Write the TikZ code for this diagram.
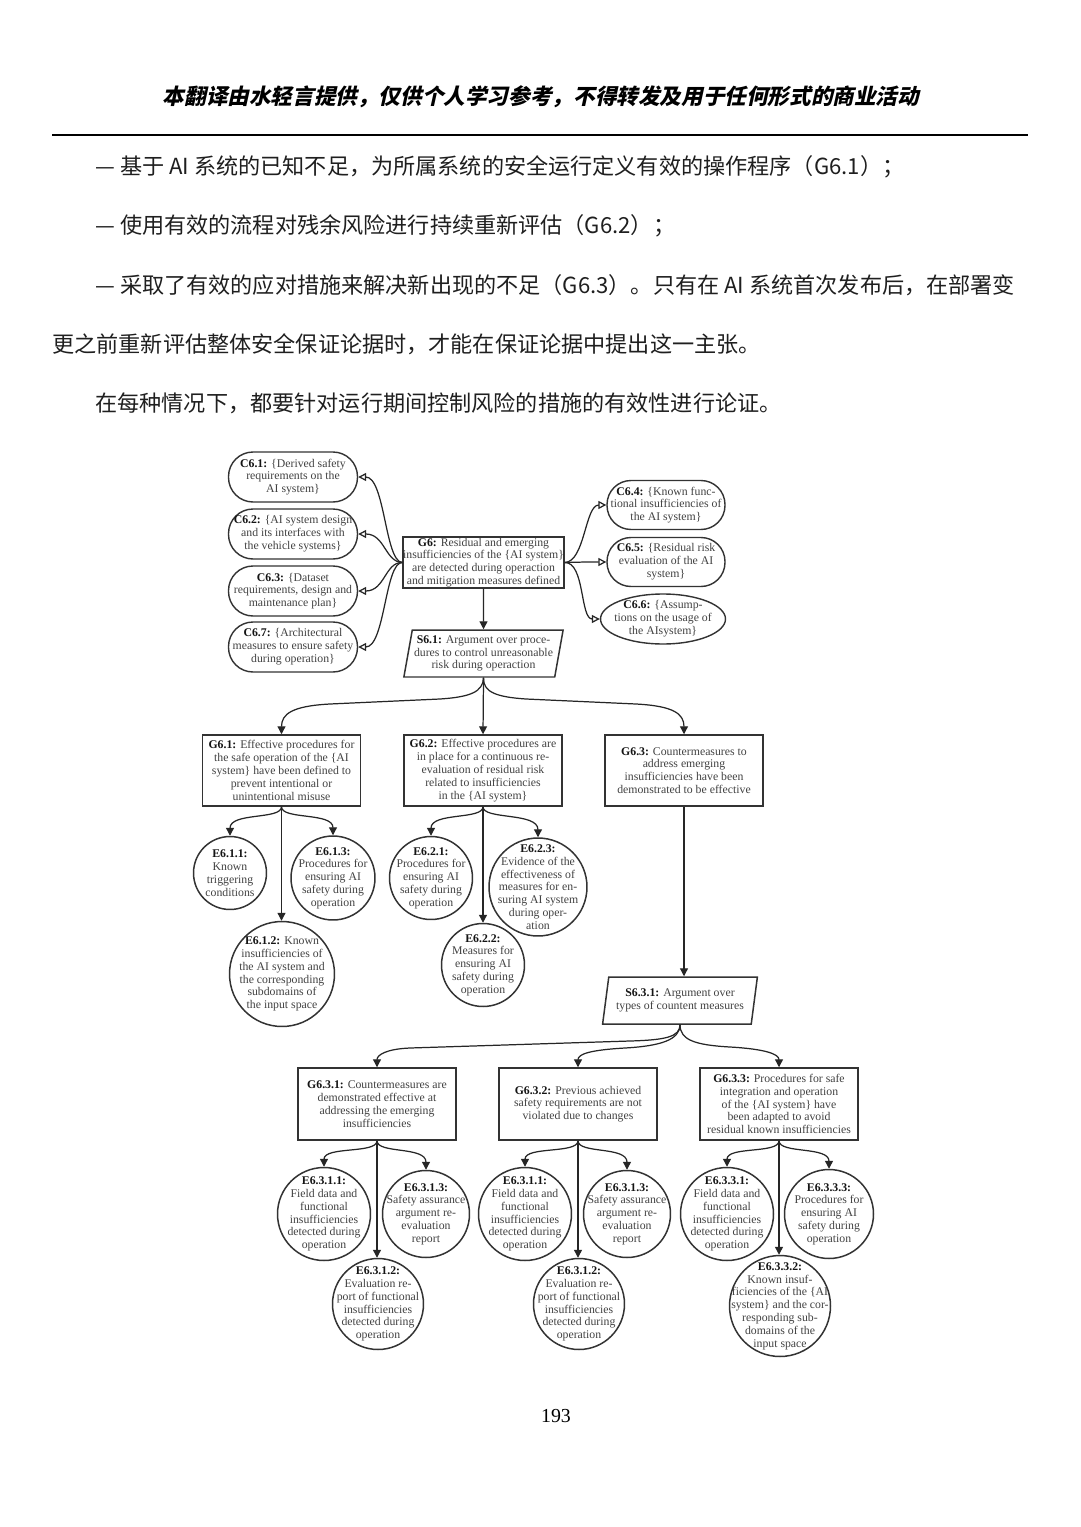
\documentclass[tikz,border=0pt]{standalone}
\usepackage{fontspec}
\setmainfont{Liberation Serif}
\newfontfamily\cjk{Noto Sans CJK SC}
\newfontfamily\cjkhead{Noto Sans CJK SC}[FakeSlant=0.22]
\usetikzlibrary{arrows.meta,shapes.geometric}
\newcommand\glab[1]{\textbf{\color{black!92}#1}}
\tikzset{
  txt/.style={font=\fontsize{6.7}{7.3}\selectfont, text=black!74, align=center},
  goal/.style={txt, rectangle, draw=black!80, line width=0.85pt, inner sep=0pt},
  ctxL/.style={txt, rectangle, draw=black!80, line width=0.8pt, rounded corners=0.49cm,
               minimum width=2.58cm, minimum height=1.0cm, inner sep=0pt},
  ctxR/.style={txt, rectangle, draw=black!80, line width=0.8pt, rounded corners=0.48cm,
               minimum width=2.36cm, minimum height=0.98cm, inner sep=0pt},
  ctxE/.style={txt, ellipse, draw=black!80, line width=0.8pt,
               minimum width=2.5cm, minimum height=1.0cm, inner sep=-6pt},
  strat/.style={txt, trapezium, trapezium left angle=78, trapezium right angle=102,
                trapezium stretches=true, draw=black!80, line width=0.85pt, inner sep=1pt},
  evid/.style={txt, circle, draw=black!80, line width=0.85pt, inner sep=-20pt},
  arr/.style={-{Triangle[length=4.5pt,width=4.5pt]}, line width=0.7pt, draw=black!85},
  carr/.style={-{Triangle[open,length=4.5pt,width=4.5pt,fill=white]}, line width=0.7pt, draw=black!85},
  body/.style={font=\cjk\fontsize{12.6}{15}\selectfont, text=black!88, inner sep=0pt, anchor=west},
}
\begin{document}
\begin{tikzpicture}[x=0.02cm,y=-0.02cm]
\fill[white] (0,0) rectangle (1080,1527);
\useasboundingbox (0,0) rectangle (1080,1527);

% page header and text
\node[font=\cjkhead\fontsize{12.3}{14}\selectfont\bfseries, text=black, inner sep=0pt] (hdr) at (541,97)
  {本翻译由水轻言提供，仅供个人学习参考，不得转发及用于任何形式的商业活动};
\draw[line width=1.1pt] (52,135) -- (1028,135);
\node[body] (l1) at (95,167) {— 基于 AI 系统的已知不足，为所属系统的安全运行定义有效的操作程序（G6.1）；};
\node[body] (l2) at (95,226) {— 使用有效的流程对残余风险进行持续重新评估（G6.2）；};
\node[body] (l3) at (95,285) {— 采取了有效的应对措施来解决新出现的不足（G6.3）。只有在 AI 系统首次发布后，在部署变};
\node[body] (l4) at (52,344) {更之前重新评估整体安全保证论据时，才能在保证论据中提出这一主张。};
\node[body] (l5) at (95,403) {在每种情况下，都要针对运行期间控制风险的措施的有效性进行论证。};

% contexts
\node[ctxL] (C61) at (293,477) {\glab{C6.1:} \{Derived safety\\requirements on the\\AI system\}};
\node[ctxL] (C62) at (293,534) {\glab{C6.2:} \{AI system design\\and its interfaces with\\the vehicle systems\}};
\node[ctxL] (C63) at (293,591) {\glab{C6.3:} \{Dataset\\requirements, design and\\maintenance plan\}};
\node[ctxL] (C67) at (293,647) {\glab{C6.7:} \{Architectural\\measures to ensure safety\\during operation\}};
\node[ctxR] (C64) at (666,505) {\glab{C6.4:} \{Known func-\\tional insufficiencies of\\the AI system\}};
\node[ctxR] (C65) at (666,562) {\glab{C6.5:} \{Residual risk\\evaluation of the AI\\system\}};
\node[ctxE] (C66) at (663,619) {\glab{C6.6:} \{Assump-\\tions on the usage of\\the AIsystem\}};

% goals and strategies
\node[goal, minimum width=3.14cm, minimum height=1.02cm] (G6) at (483.5,562.5)
  {\glab{G6:} Residual and emerging\\insufficiencies of the \{AI system\}\\are detected during operaction\\and mitigation measures defined};
\node[strat, minimum height=0.94cm] (S61) at (483.5,653.5)
  {\glab{S6.1:} Argument over proce-\\dures to control unreasonable\\risk during operaction};
\node[goal, minimum width=3.16cm, minimum height=1.42cm] (G61) at (281.5,770.5)
  {\glab{G6.1:} Effective procedures for\\the safe operation of the \{AI\\system\} have been defined to\\prevent intentional or\\unintentional misuse};
\node[goal, minimum width=3.16cm, minimum height=1.42cm] (G62) at (483,770.5)
  {\glab{G6.2:} Effective procedures are\\in place for a continuous re-\\evaluation of residual risk\\related to insufficiencies\\in the \{AI system\}};
\node[goal, minimum width=3.16cm, minimum height=1.42cm] (G63) at (684,770.5)
  {\glab{G6.3:} Countermeasures to\\address emerging\\insufficiencies have been\\demonstrated to be effective};

% evidence under G6.1, G6.2
\node[evid, minimum size=1.46cm] (E611) at (230,873) {\glab{E6.1.1:}\\Known\\triggering\\conditions};
\node[evid, minimum size=1.68cm] (E613) at (333,878) {\glab{E6.1.3:}\\Procedures for\\ensuring AI\\safety during\\operation};
\node[evid, minimum size=2.10cm] (E612) at (282,974) {\glab{E6.1.2:} Known\\insufficiencies of\\the AI system and\\the corresponding\\subdomains of\\the input space};
\node[evid, minimum size=1.66cm] (E621) at (431,878) {\glab{E6.2.1:}\\Procedures for\\ensuring AI\\safety during\\operation};
\node[evid, minimum size=1.96cm] (E623) at (538,887) {\glab{E6.2.3:}\\Evidence of the\\effectiveness of\\measures for en-\\suring AI system\\during oper-\\ation};
\node[evid, minimum size=1.66cm] (E622) at (483,965) {\glab{E6.2.2:}\\Measures for\\ensuring AI\\safety during\\operation};

% S6.3.1 and its goals
\node[strat, minimum height=0.94cm, minimum width=3.1cm] (S631) at (680,1000.5)
  {\glab{S6.3.1:} Argument over\\types of countent measures};
\node[goal, minimum width=3.16cm, minimum height=1.44cm] (G631) at (377,1104)
  {\glab{G6.3.1:} Countermeasures are\\demonstrated effective at\\addressing the emerging\\insufficiencies};
\node[goal, minimum width=3.16cm, minimum height=1.44cm] (G632) at (578,1104)
  {\glab{G6.3.2:} Previous achieved\\safety requirements are not\\violated due to changes};
\node[goal, minimum width=3.16cm, minimum height=1.44cm] (G633) at (779,1104)
  {\glab{G6.3.3:} Procedures for safe\\integration and operation\\of the \{AI system\} have\\been adapted to avoid\\residual known insufficiencies};

% evidence under G6.3.x
\node[evid, minimum size=1.86cm] (Ea1) at (324,1214) {\glab{E6.3.1.1:}\\Field data and\\functional\\insufficiencies\\detected during\\operation};
\node[evid, minimum size=1.74cm] (Ea3) at (426,1214) {\glab{E6.3.1.3:}\\Safety assurance\\argument re-\\evaluation\\report};
\node[evid, minimum size=1.82cm] (Ea2) at (378,1304) {\glab{E6.3.1.2:}\\Evaluation re-\\port of functional\\insufficiencies\\detected during\\operation};
\node[evid, minimum size=1.86cm] (Eb1) at (525,1214) {\glab{E6.3.1.1:}\\Field data and\\functional\\insufficiencies\\detected during\\operation};
\node[evid, minimum size=1.74cm] (Eb3) at (627,1214) {\glab{E6.3.1.3:}\\Safety assurance\\argument re-\\evaluation\\report};
\node[evid, minimum size=1.82cm] (Eb2) at (579,1304) {\glab{E6.3.1.2:}\\Evaluation re-\\port of functional\\insufficiencies\\detected during\\operation};
\node[evid, minimum size=1.86cm] (Ec1) at (727,1214) {\glab{E6.3.3.1:}\\Field data and\\functional\\insufficiencies\\detected during\\operation};
\node[evid, minimum size=1.78cm] (Ec3) at (829,1214) {\glab{E6.3.3.3:}\\Procedures for\\ensuring AI\\safety during\\operation};
\node[evid, minimum size=2.02cm] (Ec2) at (780,1306) {\glab{E6.3.3.2:}\\Known insuf-\\ficiencies of the \{AI\\system\} and the cor-\\responding sub-\\domains of the\\input space};

\node[font=\fontsize{11.3}{13}\selectfont, text=black] (pg) at (556,1416) {193};

% context connectors
\draw[carr] (G6.west) .. controls (385,562) and (385,477) .. (C61.east);
\draw[carr] (G6.west) .. controls (385,562) and (385,534) .. (C62.east);
\draw[carr] (G6.west) .. controls (385,562) and (385,591) .. (C63.east);
\draw[carr] (G6.west) .. controls (385,562) and (385,647) .. (C67.east);
\draw[carr] (G6.east) .. controls (585,562) and (585,505) .. (C64.west);
\draw[carr] (G6.east) .. controls (585,562) and (585,562) .. (C65.west);
\draw[carr] (G6.east) .. controls (585,562) and (580,619) .. (C66.west);

% main connectors
\draw[arr] (G6.south) -- (S61.north);
\draw[arr] (S61.south) .. controls (483,692) and (470,697) .. (440,699) -- (330,704)
  .. controls (292,706) and (281.5,714) .. (G61.north);
\draw[arr] (S61.south) -- (G62.north);
\draw[arr] (S61.south) .. controls (483,692) and (496,697) .. (526,699) -- (636,704)
  .. controls (674,706) and (684,714) .. (G63.north);

\draw[arr] (G61.south) .. controls (281.5,820) and (230,812) .. (E611.north);
\draw[arr] (G61.south) .. controls (281.5,820) and (333,812) .. (E613.north);
\draw[arr] (G61.south) -- (G61.south |- E612.north);
\draw[arr] (G62.south) .. controls (483,820) and (431,812) .. (E621.north);
\draw[arr] (G62.south) .. controls (483,820) and (538,812) .. (E623.north);
\draw[arr] (G62.south) -- (E622.north);

\draw[arr] (G63.south) -- (G63.south |- S631.north);

\draw[arr] (S631.south) .. controls (680,1037) and (665,1040) .. (630,1041) -- (410,1048)
  .. controls (386,1049) and (377,1055) .. (G631.north);
\draw[arr] (S631.south) .. controls (680,1040) and (660,1046) .. (625,1048)
  .. controls (590,1050) and (578,1054) .. (G632.north);
\draw[arr] (S631.south) .. controls (680,1040) and (695,1045) .. (730,1047)
  .. controls (765,1049) and (779,1054) .. (G633.north);

\draw[arr] (G631.south) .. controls (377,1154) and (324,1146) .. (Ea1.north);
\draw[arr] (G631.south) .. controls (377,1154) and (426,1146) .. (Ea3.north);
\draw[arr] (G631.south) -- (G631.south |- Ea2.north);
\draw[arr] (G632.south) .. controls (578,1154) and (525,1146) .. (Eb1.north);
\draw[arr] (G632.south) .. controls (578,1154) and (627,1146) .. (Eb3.north);
\draw[arr] (G632.south) -- (G632.south |- Eb2.north);
\draw[arr] (G633.south) .. controls (779,1154) and (727,1146) .. (Ec1.north);
\draw[arr] (G633.south) .. controls (779,1154) and (829,1146) .. (Ec3.north);
\draw[arr] (G633.south) -- (G633.south |- Ec2.north);
\end{tikzpicture}
\end{document}
